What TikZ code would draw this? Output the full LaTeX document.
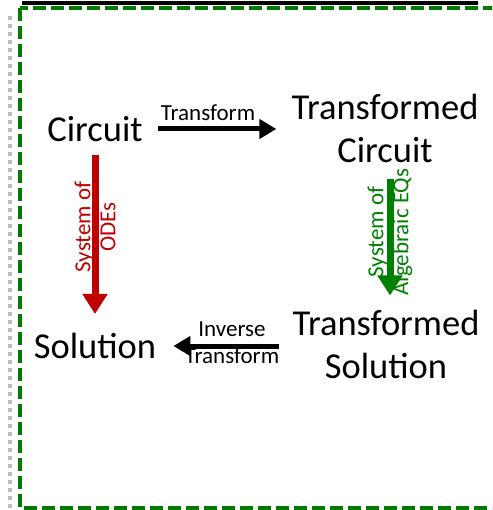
\documentclass[tikz,border=0pt]{standalone}
\usepackage{fontspec}
\setmainfont{Carlito}
\usetikzlibrary{arrows.meta}
\definecolor{odered}{RGB}{192,0,0}
\definecolor{eqgreen}{RGB}{0,128,0}
\definecolor{framegreen}{RGB}{0,122,0}
\definecolor{dotgrey}{RGB}{191,191,191}
\tikzset{
  bigtext/.style={font=\fontsize{36.5}{43}\selectfont, align=center, inner sep=0pt},
  smalltext/.style={font=\fontsize{23}{27}\selectfont, align=center, inner sep=0pt},
  sidetext/.style={font=\fontsize{23}{25}\selectfont, align=center, inner sep=0pt, rotate=90},
  flowarrow/.style={line width=5pt, -{Triangle[length=17pt,width=19pt]}},
  sysarrow/.style={line width=7pt, -{Triangle[length=20pt,width=24pt]}},
}
\begin{document}
\begin{tikzpicture}[x=1pt,y=-1pt]
  \useasboundingbox (0,0) rectangle (492,510);
  \clip (0,0) rectangle (492,510);
  % page decorations
  \draw[line width=4pt] (22,3) -- (478,3);
  \draw[dotgrey, line width=4pt, dash pattern=on 4pt off 4pt] (10,16) -- (10,512);
  \draw[framegreen, line width=4pt, dash pattern=on 13pt off 5pt] (20,8) rectangle (505,508);

  % the four states
  \node[bigtext] (circ) at (95,129) {Circuit};
  \node[bigtext] (tcirc) at (385,128) {Transformed\\Circuit};
  \node[bigtext] (sol) at (95,346) {Solution};
  \node[bigtext] (tsol) at (386,344) {Transformed\\Solution};

  % forward and inverse transforms
  \draw[flowarrow, shorten <=15pt, shorten >=15pt] (circ.east) -- (circ.east -| tcirc.west);
  \node[smalltext] (tlabel) at (208,113) {Transform};
  \draw[flowarrow, shorten <=13pt, shorten >=17pt] (tsol.west |- sol.east) -- (sol.east);
  \node[smalltext] (ilabel) at (232,343) {Inverse\\Transform};

  % solving paths
  \draw[odered, sysarrow, shorten <=13pt, shorten >=19pt] (circ.south) -- (sol.north);
  \node[sidetext, odered] (odelabel) at (95,227) {System of\\ODEs};
  \draw[eqgreen, sysarrow, shorten <=16pt, shorten >=14pt] (tcirc.south -| 390,0) -- (tsol.north -| 390,0);
  \node[sidetext, eqgreen] (eqlabel) at (390,232) {System of\\Algebraic EQs};
\end{tikzpicture}
\end{document}
